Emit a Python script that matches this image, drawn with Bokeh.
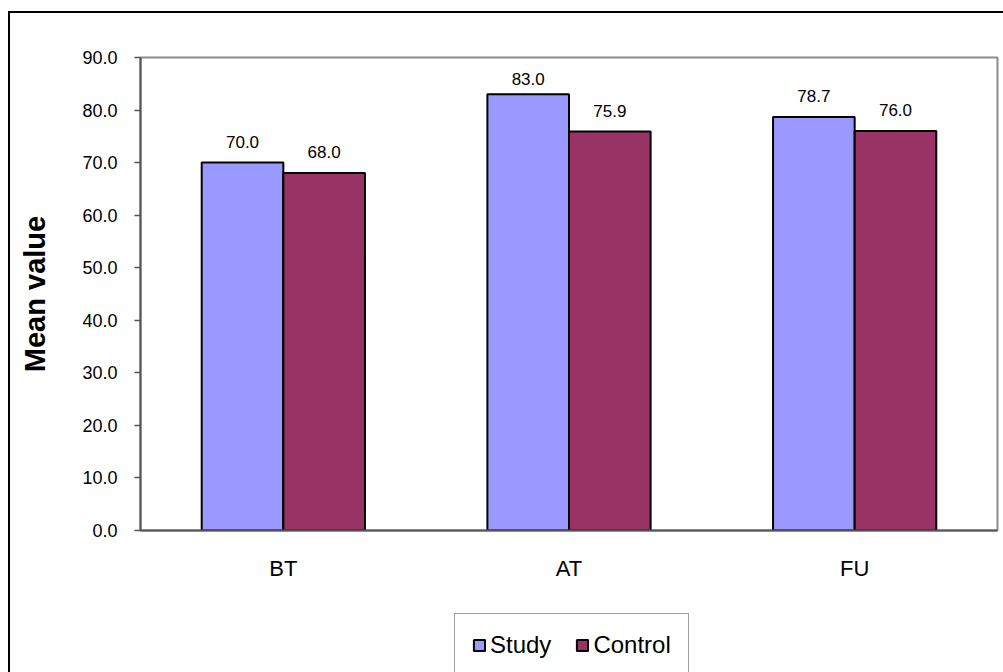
import numpy as np
from bokeh.plotting import figure
from bokeh.layouts import column
from bokeh.models import (FactorRange, Range1d, ColumnDataSource, FixedTicker,
                          PrintfTickFormatter, Legend, LegendItem)
from bokeh.transform import dodge
from bokeh.core.properties import value
from bokeh.embed import file_html
from bokeh.resources import INLINE

# Mean values per measurement time
categories = ["BT", "AT", "FU"]
study = [70.0, 83.0, 78.7]
control = [68.0, 75.9, 76.0]
series_names = ["Study", "Control"]
y_ticks = [0, 10, 20, 30, 40, 50, 60, 70, 80, 90]

FONT = "Liberation Sans"
STUDY_COLOR = "#9999FF"
CONTROL_COLOR = "#993366"
Y_MAX = 90

# value labels sit above each bar, but never closer than 8 units to the top edge
label_cap = Y_MAX - 8
source = ColumnDataSource(dict(
    cat=categories,
    study=study,
    control=control,
    study_y=np.minimum(study, label_cap),
    control_y=np.minimum(control, label_cap),
    study_lbl=["%.1f" % v for v in study],
    control_lbl=["%.1f" % v for v in control],
))

# ---- chart ----
p = figure(
    width=1003, height=600,
    x_range=FactorRange(*categories, range_padding=0),
    y_range=Range1d(0, Y_MAX),
    output_backend="svg", toolbar_location=None,
    min_border_left=140, min_border_right=6,
    min_border_top=57, min_border_bottom=70,
    background_fill_color="white", border_fill_color=None,
)
# outer chart border (left and top edges), behind the transparent canvas margin
p.styles = {
    "background": "linear-gradient(#000, #000) 8px 11px / 2px 800px no-repeat, "
                  "linear-gradient(#000, #000) 8px 11px / 1200px 2px no-repeat, #ffffff"
}

bar_w = 1 / 3.5
off = bar_w / 2

p.vbar(x=dodge("cat", -off, range=p.x_range), top="study", width=bar_w,
       source=source, fill_color=STUDY_COLOR, line_color="black", line_width=2)
p.vbar(x=dodge("cat", off, range=p.x_range), top="control", width=bar_w,
       source=source, fill_color=CONTROL_COLOR, line_color="black", line_width=2)

for ycol, lbl, dx in (("study_y", "study_lbl", -off), ("control_y", "control_lbl", off)):
    p.text(x=dodge("cat", dx, range=p.x_range), y=ycol, text=lbl, source=source,
           text_align="center", text_baseline="alphabetic", y_offset=-21,
           text_font=value(FONT), text_font_size="17px", text_color="black")

p.xgrid.visible = False
p.ygrid.visible = False
p.outline_line_color = "#8c8c8c"
p.outline_line_width = 2

yax = p.yaxis[0]
yax.ticker = FixedTicker(ticks=y_ticks)
yax.formatter = PrintfTickFormatter(format="%.1f")
yax.axis_label = "Mean value"
yax.axis_label_text_font = FONT
yax.axis_label_text_font_style = "bold"
yax.axis_label_text_font_size = "29px"
yax.axis_label_text_color = "black"
yax.axis_label_standoff = 28
yax.major_label_text_font = FONT
yax.major_label_text_font_size = "18px"
yax.major_label_text_color = "black"
yax.major_label_standoff = 17
yax.axis_line_color = "#555555"
yax.axis_line_width = 2
yax.major_tick_line_color = "#555555"
yax.major_tick_line_width = 1.5
yax.major_tick_out = 6
yax.major_tick_in = 0
yax.minor_tick_line_color = None

xax = p.xaxis[0]
xax.major_label_text_font = FONT
xax.major_label_text_font_size = "22px"
xax.major_label_text_color = "black"
xax.major_label_standoff = 25
xax.axis_line_color = "#555555"
xax.axis_line_width = 2
xax.major_tick_line_color = None
xax.major_tick_out = 0
xax.major_tick_in = 0

# ---- legend strip under the chart (its frame lines up with the chart's frame) ----
leg = figure(
    width=1003, height=72,
    x_range=Range1d(0, 1), y_range=Range1d(0, 1),
    output_backend="svg", toolbar_location=None,
    x_axis_location=None, y_axis_location=None,
    min_border=0, outline_line_color=None,
    background_fill_color=None, border_fill_color=None,
)
leg.styles = {
    "background": "linear-gradient(#000, #000) 8px 0 / 2px 100% no-repeat, #ffffff"
}
leg.xgrid.visible = False
leg.ygrid.visible = False
# swatch renderers with no drawable position; only their legend glyphs show
k_study = leg.vbar(x=[np.nan], bottom=[np.nan], top=[np.nan], width=0.1,
                   fill_color=STUDY_COLOR, line_color="black", line_width=2)
k_control = leg.vbar(x=[np.nan], bottom=[np.nan], top=[np.nan], width=0.1,
                     fill_color=CONTROL_COLOR, line_color="black", line_width=2)

legend = Legend(
    items=[LegendItem(label=series_names[0], renderers=[k_study]),
           LegendItem(label=series_names[1], renderers=[k_control])],
    orientation="horizontal",
    location=(314, -5),
    label_text_font=FONT, label_text_font_size="24px", label_text_color="black",
    glyph_width=14, glyph_height=14, label_standoff=4, spacing=24,
    padding=17, margin=0,
    border_line_color="#404040", border_line_width=1,
    background_fill_color="white", background_fill_alpha=1,
)
leg.add_layout(legend, "center")

layout = column(p, leg, spacing=0)
open("out.html", "w").write(file_html(layout, INLINE))
